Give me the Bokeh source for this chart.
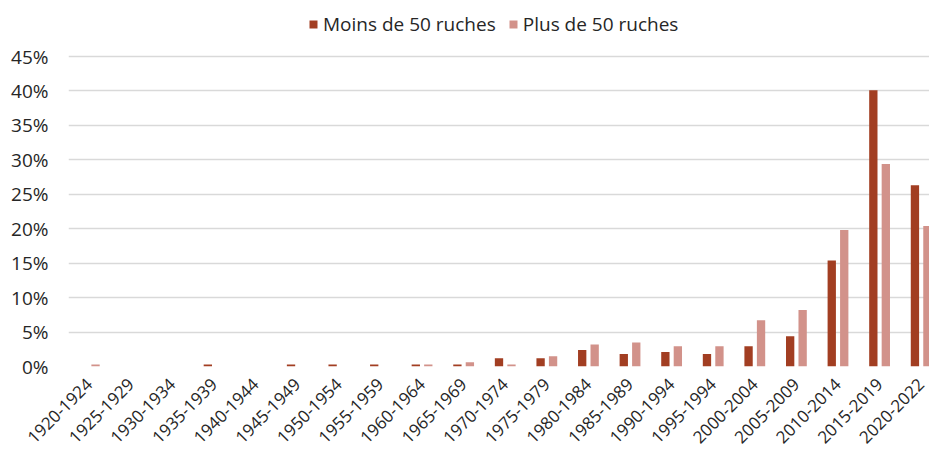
from bokeh.plotting import figure
from bokeh.models import Range1d, FixedTicker, NumeralTickFormatter, Legend, LegendItem, ColumnDataSource
from bokeh.embed import file_html
from bokeh.resources import INLINE
import math

periods = ["1920-1924", "1925-1929", "1930-1934", "1935-1939", "1940-1944", "1945-1949",
           "1950-1954", "1955-1959", "1960-1964", "1965-1969", "1970-1974", "1975-1979",
           "1980-1984", "1985-1989", "1990-1994", "1995-1994", "2000-2004", "2005-2009",
           "2010-2014", "2015-2019", "2020-2022"]
moins = [0.0, 0.0, 0.0, 0.3, 0.0, 0.3, 0.3, 0.3, 0.3, 0.3, 1.2, 1.2,
         2.4, 1.8, 2.1, 1.8, 2.95, 4.4, 15.4, 40.1, 26.3]
plus = [0.3, 0.0, 0.0, 0.0, 0.0, 0.0, 0.0, 0.0, 0.3, 0.6, 0.3, 1.5,
        3.2, 3.5, 2.95, 2.95, 6.7, 8.2, 19.8, 29.4, 20.4]
y_ticks = [0, 5, 10, 15, 20, 25, 30, 35, 40, 45]

DARK = "#A23E22"
PINK = "#D2928A"
TEXT = "#262626"
FONT = "Open Sans"

idx = list(range(len(periods)))
src = ColumnDataSource(dict(
    x1=[i - 0.15 for i in idx], x2=[i + 0.15 for i in idx],
    m=[v / 100 for v in moins], p=[v / 100 for v in plus]))

# frame spans the full height above the axis; 45% gridline sits at 56px from top
p = figure(width=929, height=457, output_backend="svg", toolbar_location=None,
           x_range=Range1d(-0.5, 20.2), y_range=Range1d(0, 0.5313),
           min_border_left=68, min_border_right=0, min_border_top=0, min_border_bottom=91)
p.outline_line_color = None
p.background_fill_color = "white"

r1 = p.vbar(x="x1", top="m", width=0.2, source=src, fill_color=DARK, line_color=None)
r2 = p.vbar(x="x2", top="p", width=0.2, source=src, fill_color=PINK, line_color=None)

# y axis
p.yaxis.ticker = FixedTicker(ticks=[t / 100 for t in y_ticks])
p.yaxis.formatter = NumeralTickFormatter(format="0%")
p.yaxis.axis_line_color = None
p.yaxis.major_tick_line_color = None
p.yaxis.minor_tick_line_color = None
p.yaxis.major_label_standoff = 14
p.yaxis.major_label_text_font = FONT
p.yaxis.major_label_text_font_size = "19px"
p.yaxis.major_label_text_color = TEXT

# x axis
p.xaxis.ticker = FixedTicker(ticks=idx)
p.xaxis.major_label_overrides = {i: lab for i, lab in enumerate(periods)}
p.xaxis.major_label_orientation = math.pi / 4
p.xaxis.axis_line_color = None
p.xaxis.major_tick_line_color = None
p.xaxis.minor_tick_line_color = None
p.xaxis.major_label_standoff = 9
p.xaxis.major_label_text_font = FONT
p.xaxis.major_label_text_font_size = "17px"
p.xaxis.major_label_text_color = TEXT

p.xgrid.grid_line_color = None
p.ygrid.grid_line_color = "#D9D9D9"
p.ygrid.grid_line_width = 1.5
p.ygrid.ticker = FixedTicker(ticks=[t / 100 for t in y_ticks])

legend = Legend(items=[LegendItem(label="Moins de 50 ruches", renderers=[r1]),
                       LegendItem(label="Plus de 50 ruches", renderers=[r2])],
                orientation="horizontal", location=(240, 329),
                label_text_font=FONT, label_text_font_size="19px", label_text_color=TEXT,
                glyph_width=10, glyph_height=10, label_height=20, label_standoff=5, spacing=12,
                padding=0, margin=0, border_line_color=None, background_fill_alpha=0)
p.add_layout(legend, "center")

open("out.html", "w").write(file_html(p, INLINE))
